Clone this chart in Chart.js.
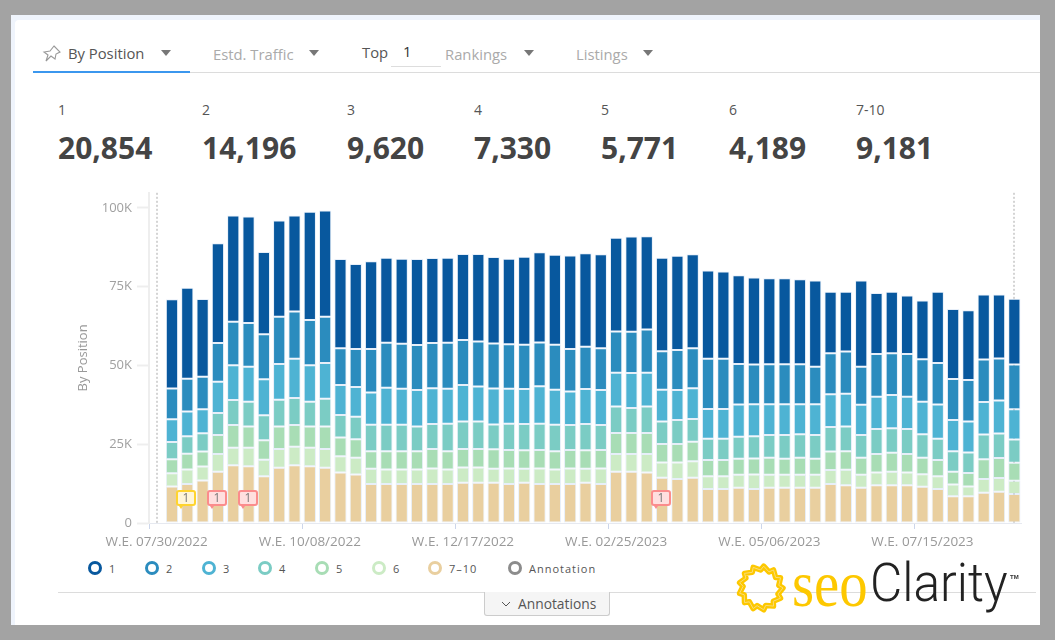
<!DOCTYPE html>
<html>
<head>
<meta charset="utf-8">
<title>By Position</title>
<script src="https://cdn.jsdelivr.net/npm/chart.js@4"></script>
<style>
html, body { margin: 0; padding: 0; width: 1055px; height: 640px; overflow: hidden; background: #a3a3a3; font-family: 'Open Sans', sans-serif; }
#frame { position: absolute; left: 11px; top: 15px; width: 1029px; height: 610px; background: #eff4fc; }
#card { position: absolute; left: 15px; top: 20px; width: 1025px; height: 605px; background: #fff; border-top-left-radius: 4px; }
.abs { position: absolute; white-space: nowrap; line-height: 1; }
.tab { top: 46px; font-size: 14.8px; color: #aaa; }
.tab.on { color: #555; }
.caret { position: absolute; top: 50px; width: 0; height: 0; border-left: 5px solid transparent; border-right: 5px solid transparent; border-top: 6px solid #777; }
.statLabel { top: 103px; font-size: 14px; color: #555; }
.statValue { top: 133px; font-size: 30px; font-weight: 700; color: #444; }
.ring { position: absolute; top: 561px; width: 8px; height: 8px; border-radius: 50%; border: 3px solid; }
.legendText { top: 563px; font-size: 11px; letter-spacing: 1px; color: #555; }
canvas { position: absolute; left: 61px; top: 180px; }
</style>
</head>
<body>
<div id="frame"></div>
<div id="card"></div>

<svg class="abs" style="left:42px;top:44px" width="20" height="20" viewBox="0 0 20 20">
  <path d="M12 2 L18 8 L14 10 L13 15 L9 12 L4 17 L6 11 L2 8 L8 7 Z" fill="none" stroke="#999" stroke-width="1.1"/>
</svg>
<div class="abs tab on" style="left:68px">By Position</div>
<div class="caret" style="left:161px"></div>
<div class="abs tab" style="left:213px;top:47px">Estd. Traffic</div>
<div class="caret" style="left:309px"></div>
<div class="abs tab on" style="left:362px;top:45px">Top</div>
<div class="abs tab on" style="left:403px;top:44px;color:#333">1</div>
<div class="abs" style="left:391px;top:66px;width:50px;height:1px;background:#ddd"></div>
<div class="abs tab" style="left:445px;top:47px">Rankings</div>
<div class="caret" style="left:524px"></div>
<div class="abs tab" style="left:576px;top:47px">Listings</div>
<div class="caret" style="left:643px"></div>
<div class="abs" style="left:33px;top:72px;width:1007px;height:1px;background:#dcdcdc"></div>
<div class="abs" style="left:33px;top:71px;width:157px;height:2px;background:#3b97ee"></div>

<div id="stats"></div>
<div id="legend"></div>

<canvas id="positionChart" width="961" height="380"></canvas>

<div class="abs" style="left:58px;top:592px;width:978px;height:1px;background:#dcdcdc"></div>
<div class="abs" style="left:484px;top:592px;width:124px;height:23px;background:#f5f5f5;border:1px solid #ccc;border-top:none;border-radius:0 0 3px 3px"></div>
<svg class="abs" style="left:501px;top:601px" width="10" height="7"><path d="M1 1 L5 5 L9 1" fill="none" stroke="#555"/></svg>
<div class="abs" style="left:518px;top:597px;font-size:13.8px;color:#555">Annotations</div>

<svg id="sun" class="abs" style="left:735px;top:562px" width="52" height="52"></svg>
<div class="abs" style="left:792px;top:551px;font-family:'Liberation Serif',serif;font-size:66px;color:#fdc800;transform:scaleX(.86);transform-origin:left top">seo</div>
<div class="abs" style="left:870px;top:556px;font-family:Roboto,sans-serif;font-weight:300;font-size:54px;color:#222;transform:scaleX(.92);transform-origin:left top">Clarity</div>
<div class="abs" style="left:1010px;top:574px;font-family:'Liberation Sans',sans-serif;font-size:6px;font-weight:700;color:#333">TM</div>

<script>
const weeks = ['07/30/2022', '08/06/2022', '08/13/2022', '08/20/2022', '08/27/2022', '09/03/2022', '09/10/2022', '09/17/2022',
    '09/24/2022', '10/01/2022', '10/08/2022', '10/15/2022', '10/22/2022', '10/29/2022', '11/05/2022', '11/12/2022', '11/19/2022',
    '11/26/2022', '12/03/2022', '12/10/2022', '12/17/2022', '12/24/2022', '12/31/2022', '01/07/2023', '01/14/2023', '01/21/2023',
    '01/28/2023', '02/04/2023', '02/11/2023', '02/18/2023', '02/25/2023', '03/04/2023', '03/11/2023', '03/18/2023', '03/25/2023',
    '04/01/2023', '04/08/2023', '04/15/2023', '04/22/2023', '04/29/2023', '05/06/2023', '05/13/2023', '05/20/2023', '05/27/2023',
    '06/03/2023', '06/10/2023', '06/17/2023', '06/24/2023', '07/01/2023', '07/08/2023', '07/15/2023', '07/22/2023', '07/29/2023',
    '08/05/2023', '08/12/2023', '08/19/2023', '08/26/2023'];

// the first week has no bar, it only carries the axis label
const pos7to10 = [null, 11600, 12400, 13500, 16300, 18300, 18000, 14800, 17500, 18300, 18000, 17500, 16000, 15400, 12400, 12400, 12400, 12400, 12400, 12400,
    12800, 12800, 12800, 12400, 12800, 12400, 12400, 12400, 12800, 12400, 16300, 16300, 16000, 14400, 14000, 14400, 10800, 10800, 11200, 10800,
    11200, 11200, 11200, 11200, 12400, 12000, 11200, 12000, 12000, 12000, 11500, 10800, 8500, 8500, 9600, 9900, 9181];
const pos6 = [null, 4200, 4600, 4400, 5600, 5600, 5900, 5300, 6000, 5900, 5900, 6000, 5200, 5300, 4800, 4600, 4600, 4600, 4900, 4600,
    4800, 4800, 4400, 4900, 4400, 4900, 4600, 4900, 4400, 4900, 5600, 5600, 5900, 4800, 5200, 5200, 4000, 4000, 4100, 4600,
    4100, 4100, 4100, 4100, 4400, 4900, 4100, 4000, 4300, 4000, 4000, 4000, 3700, 3100, 4400, 4400, 4189];
const pos5 = [null, 4400, 5000, 4800, 6000, 7200, 6700, 6200, 7100, 6900, 6700, 7100, 5900, 5900, 5600, 5800, 5800, 5800, 6200, 5800,
    5900, 5900, 6200, 5900, 5900, 5900, 5800, 5900, 5900, 5900, 6700, 6700, 6700, 5900, 5900, 6200, 5200, 5200, 5100, 5100,
    5400, 5100, 5400, 5100, 5900, 5900, 5400, 5900, 6000, 5900, 5200, 5200, 4100, 4300, 6200, 6300, 5771];
const pos4 = [null, 5500, 5500, 5800, 7000, 7900, 7900, 7900, 8500, 8600, 7900, 8800, 7200, 7100, 8400, 8400, 8400, 7800, 7900, 8700,
    8700, 8700, 7900, 8300, 8300, 8300, 8400, 7900, 8300, 7900, 8400, 7900, 8400, 7100, 7600, 7200, 6700, 6700, 7000, 7000,
    7200, 7500, 7500, 7500, 7800, 7800, 7200, 7900, 7800, 7900, 7500, 6700, 6500, 6500, 7900, 7800, 7330];
const pos3 = [null, 7200, 7900, 7600, 9900, 11100, 11100, 11400, 11400, 12400, 11600, 11400, 9500, 9500, 10200, 11700, 11400, 11600, 11400, 11100,
    11600, 11100, 11400, 11100, 11100, 11900, 11100, 10600, 11100, 11100, 10700, 11100, 10700, 10100, 9500, 9800, 9500, 9500, 10200, 10200,
    9800, 9800, 9500, 9800, 10400, 10400, 9600, 10300, 10500, 10300, 10300, 10900, 9900, 9800, 10300, 10500, 9620];
const pos2 = [null, 9800, 10400, 10300, 12300, 13800, 13900, 14300, 15000, 15000, 14300, 14700, 11700, 12000, 13800, 14300, 14300, 14300, 14300, 14600,
    14300, 14300, 14300, 14100, 14100, 13900, 14300, 13500, 13400, 13300, 13100, 13100, 13700, 12200, 12700, 12700, 15900, 15900, 12900, 12600,
    12700, 12700, 12700, 11900, 13000, 13400, 12100, 13500, 13300, 13500, 13500, 13200, 13000, 13200, 13500, 13300, 14196];
const pos1 = [null, 28300, 28900, 24700, 31700, 33700, 33800, 26100, 30500, 30500, 34400, 33700, 28300, 27000, 27900, 27000, 27000, 27300, 27000, 27000,
    27300, 27800, 27400, 27200, 27900, 28600, 28500, 29700, 29700, 29800, 29700, 30200, 29600, 29700, 29900, 29800, 28000, 27700, 28100, 27600,
    27300, 27300, 27000, 27400, 19500, 19000, 27400, 19400, 19500, 18600, 18600, 22600, 22200, 22100, 20600, 20300, 20854];

const seriesNames = ['7-10', '6', '5', '4', '3', '2', '1'];
const seriesValues = [pos7to10, pos6, pos5, pos4, pos3, pos2, pos1];
const seriesColors = ['#e9cf9f', '#ccebc5', '#a8ddb5', '#7bccc4', '#4eb3d3', '#2b8cbe', '#08589e'];

const yTicks = [0, 25000, 50000, 75000, 100000];

const statNames = ['1', '2', '3', '4', '5', '6', '7-10'];
const statTotals = ['20,854', '14,196', '9,620', '7,330', '5,771', '4,189', '9,181'];
const statLeft = [58, 202, 347, 474, 601, 729, 856];

const legendNames = ['1', '2', '3', '4', '5', '6', '7\u201310', 'Annotation'];
const legendColors = ['#08589e', '#2b8cbe', '#4eb3d3', '#7bccc4', '#a8ddb5', '#ccebc5', '#e9cf9f', '#8c8c8c'];
const legendLeft = [88, 145, 202, 258, 315, 372, 428, 508];

// annotation flags: which week, and yellow or red
const flagWeeks = ['08/13/2022', '08/27/2022', '09/10/2022', '03/18/2023'];
const flagKinds = ['yellow', 'red', 'red', 'red'];
const flagLevel = 7900;


const stats = document.getElementById('stats');
for (let i = 0; i < statNames.length; i++) {
    stats.innerHTML += `<div class="abs statLabel" style="left:${statLeft[i]}px">${statNames[i]}</div>`;
    stats.innerHTML += `<div class="abs statValue" style="left:${statLeft[i]}px">${statTotals[i]}</div>`;
}

const legend = document.getElementById('legend');
for (let i = 0; i < legendNames.length; i++) {
    legend.innerHTML += `<div class="ring" style="left:${legendLeft[i]}px;border-color:${legendColors[i]}"></div>`;
    legend.innerHTML += `<div class="abs legendText" style="left:${legendLeft[i] + 21}px">${legendNames[i]}</div>`;
}

// logo sun, a wobbly ring
let sunPoints = '';
for (let i = 0; i < 26; i++) {
    const angle = (i + (i % 2 ? 0.4 : 0)) / 26 * Math.PI * 2;
    const radius = i % 2 ? 18 : 22;
    sunPoints += (26 + radius * Math.cos(angle)).toFixed(1) + ',' + (26 + radius * Math.sin(angle)).toFixed(1) + ' ';
}
document.getElementById('sun').innerHTML =
    `<polygon points="${sunPoints}" fill="none" stroke="#fdc800" stroke-width="5.5" stroke-linejoin="round"/>` +
    `<polygon points="${sunPoints}" fill="none" stroke="#f9dc7a" stroke-width="1"/>`;


// dotted lines at the first and last week, behind the bars
const edgeLines = {
    id: 'edgeLines',
    beforeDatasetsDraw(chart) {
        const { ctx, chartArea, scales } = chart;
        ctx.save();
        ctx.strokeStyle = '#d4d4d4';
        ctx.lineWidth = 2;
        ctx.setLineDash([2, 2]);
        [0, weeks.length - 1].forEach(function (i) {
            const x = Math.round(scales.x.getPixelForValue(i));
            ctx.beginPath();
            ctx.moveTo(x, chartArea.top);
            ctx.lineTo(x, chartArea.bottom);
            ctx.stroke();
        });
        ctx.restore();
    }
};

const annotationFlags = {
    id: 'annotationFlags',
    afterDatasetsDraw(chart) {
        const { ctx, scales } = chart;
        ctx.save();
        for (let i = 0; i < flagWeeks.length; i++) {
            const x = Math.round(scales.x.getPixelForValue(weeks.indexOf(flagWeeks[i]))) - 1;
            const y = Math.round(scales.y.getPixelForValue(flagLevel));
            const yellow = flagKinds[i] === 'yellow';
            ctx.fillStyle = yellow ? '#fff6d8' : '#ffdfdf';
            ctx.strokeStyle = yellow ? '#ffd42e' : '#fb8c8c';
            ctx.lineWidth = 2;
            ctx.beginPath();
            ctx.roundRect(x - 9, y - 7, 18, 14, 2);
            ctx.fill();
            ctx.stroke();
            ctx.fillStyle = ctx.strokeStyle;
            ctx.beginPath();
            ctx.moveTo(x - 7, y + 8);
            ctx.lineTo(x - 3, y + 8);
            ctx.lineTo(x - 5, y + 11);
            ctx.fill();
            ctx.fillStyle = '#777';
            ctx.font = '12px "Open Sans"';
            ctx.textAlign = 'center';
            ctx.textBaseline = 'middle';
            ctx.fillText('1', x, y + 0.5);
        }
        ctx.restore();
    }
};

Chart.defaults.font.family = "'Open Sans', sans-serif";

const datasets = [];
for (let i = 0; i < seriesNames.length; i++) {
    datasets.push({
        label: seriesNames[i],
        data: seriesValues[i],
        backgroundColor: seriesColors[i],
        borderColor: 'rgba(195, 215, 240, 0.4)',
        borderWidth: 1,
        borderSkipped: false,
        barPercentage: 0.8,
        categoryPercentage: 1
    });
}

const positionChart = new Chart(document.getElementById('positionChart'), {
    type: 'bar',
    data: { labels: weeks, datasets: datasets },
    plugins: [edgeLines, annotationFlags],
    options: {
        responsive: false,
        animation: false,
        layout: { padding: { top: 7 } },
        plugins: { legend: { display: false }, tooltip: { enabled: false } },
        scales: {
            x: {
                stacked: true,
                offset: true,
                afterFit: function (scale) { scale.height = 37; },
                border: { color: '#e6e9f0', width: 1 },
                grid: {
                    drawOnChartArea: false,
                    tickLength: 6,
                    tickColor: function (ctx) { return ctx.index % 10 === 0 ? '#ccd6eb' : 'transparent'; }
                },
                ticks: {
                    autoSkip: false,
                    maxRotation: 0,
                    minRotation: 0,
                    padding: 5,
                    color: '#999',
                    font: { size: 13.5 },
                    callback: function (value, index) { return index % 10 === 0 ? 'W.E. ' + weeks[index] : ''; }
                }
            },
            y: {
                stacked: true,
                min: 0,
                max: 104800,
                afterFit: function (scale) { scale.width = 88; },
                afterBuildTicks: function (scale) { scale.ticks = yTicks.map(function (v) { return { value: v }; }); },
                border: { color: '#eeeeee', width: 2 },
                grid: { drawOnChartArea: false, tickLength: 12, tickColor: '#eeeeee', tickWidth: 2 },
                title: { display: true, text: 'By Position', color: '#999', font: { size: 13 }, padding: { top: 14, bottom: 0 } },
                ticks: {
                    padding: 5,
                    color: '#a0a0a0',
                    font: { size: 13 },
                    callback: function (value) { return value === 0 ? '0' : value / 1000 + 'K'; }
                }
            }
        }
    }
});
</script>
</body>
</html>
